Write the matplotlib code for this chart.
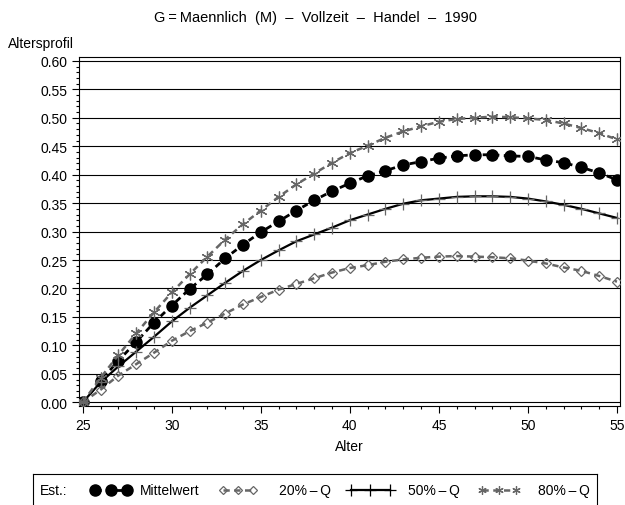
import numpy as np
import matplotlib.pyplot as plt
from matplotlib.ticker import MultipleLocator, FormatStrFormatter

plt.rcParams['font.family'] = ['Liberation Sans', 'DejaVu Sans']
plt.rcParams['font.size'] = 10

ages = np.arange(25, 56)
mittelwert = [0.000, 0.0375, 0.073, 0.106, 0.140, 0.170, 0.199, 0.225, 0.253, 0.277,
              0.299, 0.318, 0.337, 0.355, 0.371, 0.385, 0.398, 0.407, 0.417, 0.423,
              0.429, 0.433, 0.435, 0.435, 0.433, 0.432, 0.426, 0.421, 0.413, 0.403, 0.391]
q20 = [0.000, 0.022, 0.047, 0.067, 0.087, 0.108, 0.125, 0.140, 0.156, 0.172,
       0.185, 0.198, 0.208, 0.218, 0.228, 0.236, 0.241, 0.247, 0.251, 0.254,
       0.256, 0.257, 0.256, 0.255, 0.253, 0.249, 0.244, 0.237, 0.231, 0.222, 0.212]
q50 = [0.000, 0.035, 0.063, 0.089, 0.115, 0.142, 0.166, 0.188, 0.210, 0.231,
       0.250, 0.267, 0.283, 0.295, 0.307, 0.320, 0.330, 0.340, 0.349, 0.355,
       0.358, 0.361, 0.362, 0.362, 0.361, 0.358, 0.353, 0.347, 0.340, 0.332, 0.324]
q80 = [0.000, 0.043, 0.083, 0.121, 0.158, 0.193, 0.225, 0.256, 0.286, 0.313,
       0.337, 0.361, 0.383, 0.402, 0.421, 0.438, 0.451, 0.465, 0.476, 0.485,
       0.493, 0.498, 0.500, 0.502, 0.501, 0.499, 0.496, 0.490, 0.482, 0.473, 0.462]

labels = ['Mittelwert', '20%\u2009\u2013\u2009Q', '50%\u2009\u2013\u2009Q', '80%\u2009\u2013\u2009Q']
gray = '#666666'

styles = [
    dict(color='black', linestyle=(0, (2.2, 1.6)), linewidth=2.0, marker='o',
         markersize=8, markerfacecolor='black', markeredgecolor='black'),
    dict(color=gray, linestyle=(0, (2.5, 1.8)), linewidth=1.8, marker='D',
         markersize=5.5, markerfacecolor='none', markeredgecolor=gray, markeredgewidth=0.9),
    dict(color='black', linestyle='-', linewidth=1.6, marker='+',
         markersize=8.5, markeredgecolor=gray, markeredgewidth=0.9),
    dict(color=gray, linestyle=(0, (2.5, 1.8)), linewidth=1.8, marker=(6, 2, 0),
         markersize=8.5, markeredgecolor=gray, markeredgewidth=0.9),
]
series = [mittelwert, q20, q50, q80]

fig = plt.figure(figsize=(6.25, 5.06), dpi=100)
ax = fig.add_axes([0.1264, 0.1957, 0.8656, 0.6893])

for yv in np.arange(0, 0.601, 0.05):
    ax.axhline(yv, color='black', linewidth=0.8, zorder=1)

order = [1, 2, 0, 3]
for i in order:
    ax.plot(ages, series[i], zorder=3 + i, **styles[i])

ax.set_xlim(24.79, 55.17)
ax.set_ylim(-0.0065, 0.6065)
ax.xaxis.set_major_locator(MultipleLocator(5))
ax.xaxis.set_minor_locator(MultipleLocator(1))
ax.yaxis.set_major_locator(MultipleLocator(0.05))
ax.yaxis.set_minor_locator(MultipleLocator(0.01))
ax.yaxis.set_major_formatter(FormatStrFormatter('%.2f'))
ax.tick_params(which='major', direction='out', length=5, width=0.8, labelsize=10)
ax.tick_params(which='minor', direction='out', length=2.5, width=0.8)
for s in ax.spines.values():
    s.set_linewidth(0.8)

ax.set_xlabel('Alter', fontsize=10, labelpad=5)
fig.text(0.013, 0.913, 'Altersprofil', fontsize=10, ha='left', va='center')
fig.text(0.504, 0.964, 'G\u2009=\u2009Maennlich  (M)  \u2013  Vollzeit  \u2013  Handel  \u2013  1990',
         fontsize=10.5, ha='center', va='center')

# legend panel
lax = fig.add_axes([33 / 625, -0.02, (597 - 33) / 625, (506 - 475 + 10) / 506])
lax.set_xlim(33, 597)
lax.set_ylim(516, 475)
lax.set_xticks([])
lax.set_yticks([])
for s in lax.spines.values():
    s.set_linewidth(0.8)
ty = 491
lax.text(40, ty, 'Est.:', ha='left', va='center', fontsize=10)
handle_x = [[95, 111, 127], [223, 238, 253], [351, 370, 390], [482, 499, 516]]
text_x = [140, 279, 408, 538]
leg_sizes = [8, 4.5, 8, 6]
for i in range(4):
    st = dict(styles[i])
    st['markersize'] = leg_sizes[i]
    if i == 2:
        st['markeredgecolor'] = 'black'
    hx = handle_x[i]
    lax.plot(hx, [ty] * 3, **st)
    lax.text(text_x[i], ty, labels[i], ha='left', va='center', fontsize=10)

fig.savefig('out.png', dpi=100)
